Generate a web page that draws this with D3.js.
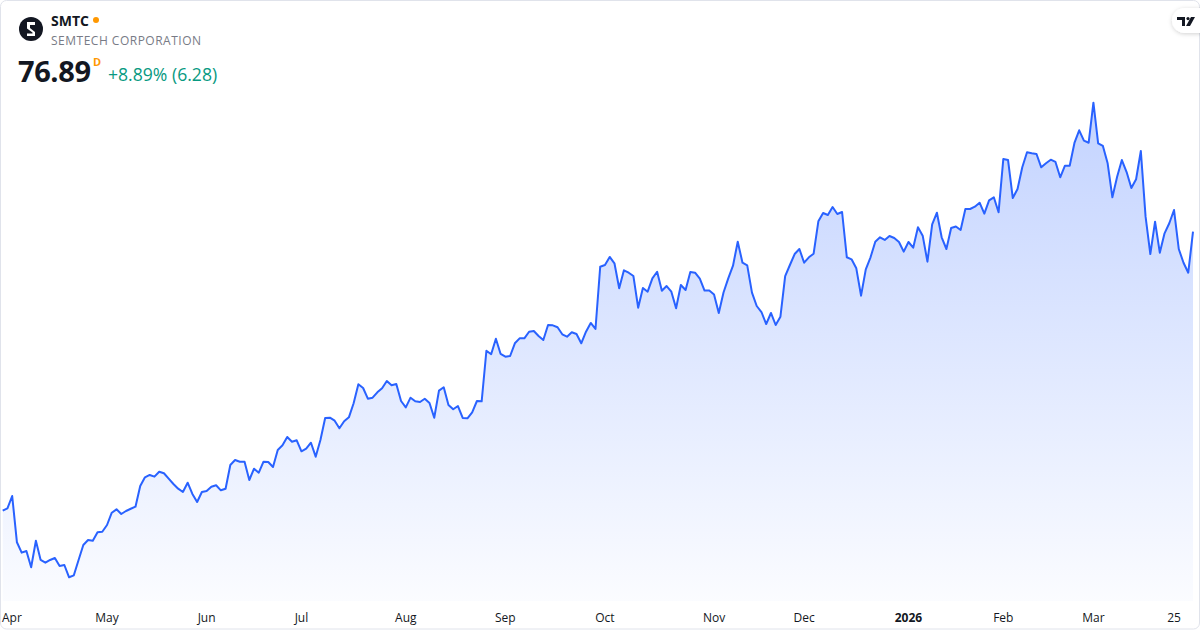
<!DOCTYPE html>
<html>
<head>
<meta charset="utf-8">
<script src="https://cdn.jsdelivr.net/npm/d3@7/dist/d3.min.js"></script>
<style>
  html, body { margin: 0; padding: 0; background: #ffffff; }
  svg { display: block; font-family: "Open Sans", "Noto Sans", sans-serif; }
</style>
</head>
<body>
<svg id="chart" width="1200" height="630"></svg>
<script>
// ---- Data ----
const symbol = "SMTC";
const companyName = "SEMTECH CORPORATION";
const lastPrice = "76.89";
const changeText = "+8.89% (6.28)";
const intervalText = "D";

// first and last trading session, and NYSE holidays in between
const startDate = "2025-03-31";
const endDate = "2026-03-31";
const holidays = ["2025-04-18","2025-05-26","2025-06-19","2025-07-04","2025-09-01",
  "2025-11-27","2025-12-25","2026-01-01","2026-01-19","2026-02-16"];

// daily closes
const closes = [
  34.16,34.53,36.41,29.32,27.73,27.99,25.49,29.56,26.61,26.19,
  26.61,26.91,25.69,25.84,23.96,24.26,26.61,28.90,29.67,29.56,
  30.85,30.94,31.97,33.85,34.37,33.65,34.11,34.46,34.77,37.94,
  39.27,39.63,39.37,40.13,39.89,39.06,38.25,37.53,37.02,38.45,
  36.72,35.49,37.02,37.17,37.83,38.05,37.28,37.53,41.16,41.92,
  41.66,41.66,38.86,40.59,39.98,41.66,41.62,40.85,43.45,44.17,
  45.45,44.73,44.94,43.26,43.65,44.57,42.43,44.99,48.36,48.40,
  47.94,46.78,47.85,48.46,50.61,53.52,52.95,51.31,51.47,52.29,
  52.91,54.02,53.36,53.56,50.96,49.99,51.47,50.91,50.81,51.31,
  50.65,48.40,52.54,53.06,50.35,49.69,50.19,48.36,48.31,49.23,
  50.96,50.91,58.66,58.13,60.50,58.16,57.74,57.85,59.80,60.56,
  60.56,61.57,61.68,60.92,60.30,62.60,62.55,62.25,61.18,60.81,
  61.48,61.22,59.80,61.57,62.91,61.99,71.53,71.79,73.02,72.05,
  68.22,70.98,70.61,70.10,65.25,68.27,67.70,69.75,70.76,67.85,
  68.57,67.70,65.16,68.73,67.96,70.72,70.61,69.69,67.88,67.88,
  67.27,64.44,67.58,69.75,71.68,75.36,72.14,71.74,67.55,65.51,
  64.59,62.75,64.44,62.60,63.87,70.10,71.79,73.47,74.24,72.14,
  72.97,73.52,78.48,79.75,79.45,80.67,79.60,79.91,72.97,72.66,
  71.28,67.09,71.13,72.97,75.36,76.03,75.62,76.23,75.93,75.31,
  73.83,75.31,74.44,77.56,76.28,72.30,78.02,79.80,76.03,74.24,
  77.46,77.69,77.15,80.37,80.37,80.72,81.33,79.65,81.70,82.16,
  79.86,88.02,87.87,82.05,83.43,86.75,89.05,88.90,88.79,86.75,
  87.37,87.92,87.57,85.22,87.00,87.00,90.48,92.42,90.83,90.52,
  96.65,90.43,90.02,87.37,82.16,85.31,87.87,86.03,83.58,84.92,
  89.25,79.19,73.47,78.42,73.67,76.64,78.18,80.21,74.24,72.14,
  70.61,76.89
];

// x-axis tick labels and the session they mark
const tickDates  = ["2025-04-01","2025-05-01","2025-06-02","2025-07-01","2025-08-01","2025-09-02",
  "2025-10-01","2025-11-03","2025-12-01","2026-01-02","2026-02-02","2026-03-02","2026-03-25"];
const tickLabels = ["Apr","May","Jun","Jul","Aug","Sep","Oct","Nov","Dec","2026","Feb","Mar","25"];
const boldTicks  = ["2026"];

// ---- Trading calendar ----
const fmt = d3.utcFormat("%Y-%m-%d");
const sessions = d3.utcDays(new Date(startDate + "T00:00:00Z"), d3.utcDay.offset(new Date(endDate + "T00:00:00Z"), 1))
  .filter(d => d.getUTCDay() !== 0 && d.getUTCDay() !== 6)
  .map(fmt)
  .filter(s => !holidays.includes(s));
const data = sessions.slice(0, closes.length).map((s, i) => ({ date: s, value: closes[i] }));

// ---- Layout ----
const W = 1200, H = 630;
const paneBottom = 601;
const svg = d3.select("#chart");

// frame
svg.append("rect").attr("x", 0.5).attr("y", 0.5).attr("width", W - 1).attr("height", H - 1.5)
  .attr("rx", 6).attr("fill", "#ffffff").attr("stroke", "#e0e3eb");

const x = d3.scalePoint().domain(data.map(d => d.date)).range([2.7, 1193]);
const y = d3.scaleLinear().domain([20, 100]).range([603.14, 80.81]);

// gradient
const defs = svg.append("defs");
const grad = defs.append("linearGradient").attr("id", "areaGrad")
  .attr("gradientUnits", "userSpaceOnUse").attr("x1", 0).attr("x2", 0)
  .attr("y1", y(d3.max(closes))).attr("y2", paneBottom);
grad.append("stop").attr("offset", "0%").attr("stop-color", "#2962ff").attr("stop-opacity", 0.28);
grad.append("stop").attr("offset", "100%").attr("stop-color", "#2962ff").attr("stop-opacity", 0.02);

const shadow = defs.append("filter").attr("id", "tvShadow").attr("x", "-50%").attr("y", "-50%").attr("width", "200%").attr("height", "200%");
shadow.append("feDropShadow").attr("dx", 0).attr("dy", 1).attr("stdDeviation", 2).attr("flood-color", "#000").attr("flood-opacity", 0.18);

const area = d3.area().x(d => x(d.date)).y0(paneBottom).y1(d => y(d.value));
const line = d3.line().x(d => x(d.date)).y(d => y(d.value));

svg.append("path").datum(data).attr("d", area).attr("fill", "url(#areaGrad)");
svg.append("path").datum(data).attr("d", line).attr("fill", "none")
  .attr("stroke", "#2962ff").attr("stroke-width", 2).attr("stroke-linejoin", "round");

// x-axis labels
const axisG = svg.append("g");
tickDates.forEach((td, i) => {
  const t = axisG.append("text")
    .attr("y", 622)
    .attr("font-size", 12)
    .attr("fill", "#131722")
    .attr("font-weight", boldTicks.includes(tickLabels[i]) ? 700 : 400)
    .attr("text-anchor", "middle")
    .text(tickLabels[i]);
  let cx = x(td);
  const w = t.node().getComputedTextLength();
  if (cx - w / 2 < 2) cx = 2 + w / 2;
  t.attr("x", cx);
});

// header
const logo = svg.append("g").attr("transform", "translate(31,29)");
logo.append("circle").attr("r", 12).attr("fill", "#131722");
logo.append("path").attr("d", "M-4,-7 L4,-7 L4,-4 L-1,-4 L-1,-1 L4,3 L4,7 L-4,7 L-4,4.5 L1.5,4.5 L1.5,3.5 L-4,-0.5 Z")
  .attr("fill", "#ffffff");

svg.append("text").attr("x", 51).attr("y", 26).attr("font-size", 14).attr("font-weight", 700)
  .attr("fill", "#131722").text(symbol);
svg.append("circle").attr("cx", 96).attr("cy", 20).attr("r", 3).attr("fill", "#ff9800");
svg.append("text").attr("x", 51).attr("y", 45).attr("font-size", 12).attr("fill", "#787b86")
  .attr("letter-spacing", 0.5).text(companyName);

svg.append("text").attr("x", 18).attr("y", 82).attr("font-size", 29).attr("font-weight", 700)
  .attr("fill", "#131722").attr("letter-spacing", -0.4).text(lastPrice);
svg.append("text").attr("x", 93).attr("y", 66).attr("font-size", 11).attr("font-weight", 700)
  .attr("fill", "#ff9800").text(intervalText);
svg.append("text").attr("x", 108).attr("y", 81).attr("font-size", 17.6)
  .attr("fill", "#089981").text(changeText);

// TradingView badge
const tv = svg.append("g").attr("transform", "translate(1172,8)");
tv.append("rect").attr("x", 0).attr("y", 0).attr("width", 40).attr("height", 25).attr("rx", 12.5)
  .attr("fill", "#ffffff").attr("filter", "url(#tvShadow)");
tv.append("path").attr("d", "M5,9 L13,9 L13,18 L10,18 L10,12 L5,12 Z").attr("fill", "#131722");
tv.append("circle").attr("cx", 16).attr("cy", 10.6).attr("r", 1.6).attr("fill", "#131722");
tv.append("path").attr("d", "M19,9 L23,9 L18,18 L14,18 Z").attr("fill", "#131722");
</script>
</body>
</html>
